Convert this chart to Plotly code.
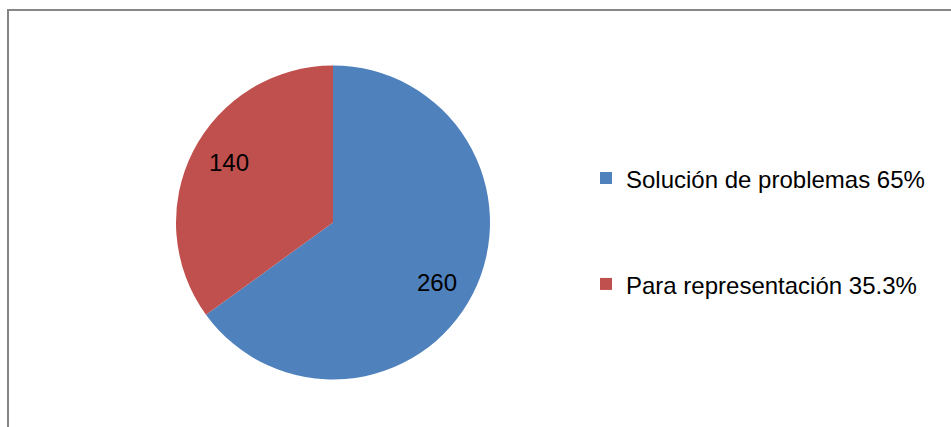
import math
import plotly.graph_objects as go

categories = ["Solución de problemas 65%", "Para representación 35.3%"]
values = [260, 140]
colors = ["#4F81BD", "#C0504D"]

W, H = 951, 427

# pie geometry (pixels)
CX, CY, R = 333, 222.5, 157
dom_x = [(CX - R) / W, (CX + R) / W]
dom_y = [(H - (CY + R)) / H, (H - (CY - R)) / H]

legend_labels = [" <br><span style=\"font-size:24px\">" + c + "</span><br> " for c in categories]

fig = go.Figure(
    go.Pie(
        labels=legend_labels,
        values=values,
        textinfo="none",
        marker=dict(colors=colors, line=dict(width=0)),
        sort=False,
        direction="clockwise",
        rotation=0,
        hoverinfo="label+value",
        domain=dict(x=dom_x, y=dom_y),
    )
)

# value labels placed near the middle angle of each slice
total = sum(values)
cum = 0
for v in values:
    mid = (cum + v / 2) / total * 2 * math.pi + math.radians(3)
    cum += v
    px = CX + 0.765 * R * math.sin(mid)
    py = CY - 0.765 * R * math.cos(mid)
    fig.add_annotation(
        x=px / W, y=1 - py / H, xref="paper", yref="paper",
        text=str(v), showarrow=False,
        font=dict(family="Liberation Sans", size=24, color="#000000"),
        xanchor="center", yanchor="middle",
    )

fig.add_shape(
    type="rect", xref="paper", yref="paper",
    x0=8 / W, x1=1.05, y0=-0.05, y1=1 - 10 / H,
    line=dict(color="#868686", width=2), fillcolor="rgba(0,0,0,0)", layer="below",
)

fig.update_layout(
    width=W, height=H,
    margin=dict(l=0, r=0, t=0, b=0),
    paper_bgcolor="#FFFFFF",
    plot_bgcolor="#FFFFFF",
    font=dict(family="Liberation Sans", color="#000000"),
    showlegend=True,
    legend=dict(
        x=586 / W, xanchor="left",
        y=1 - 120 / H, yanchor="top",
        font=dict(family="Liberation Sans", size=26.4, color="#000000"),
        bgcolor="rgba(0,0,0,0)",
        borderwidth=0,
        traceorder="normal",
    ),
)

fig.write_html(
    "out.html",
    config={"displayModeBar": False},
    post_script="document.body.style.margin='0px';document.body.style.overflow='hidden';",
)
